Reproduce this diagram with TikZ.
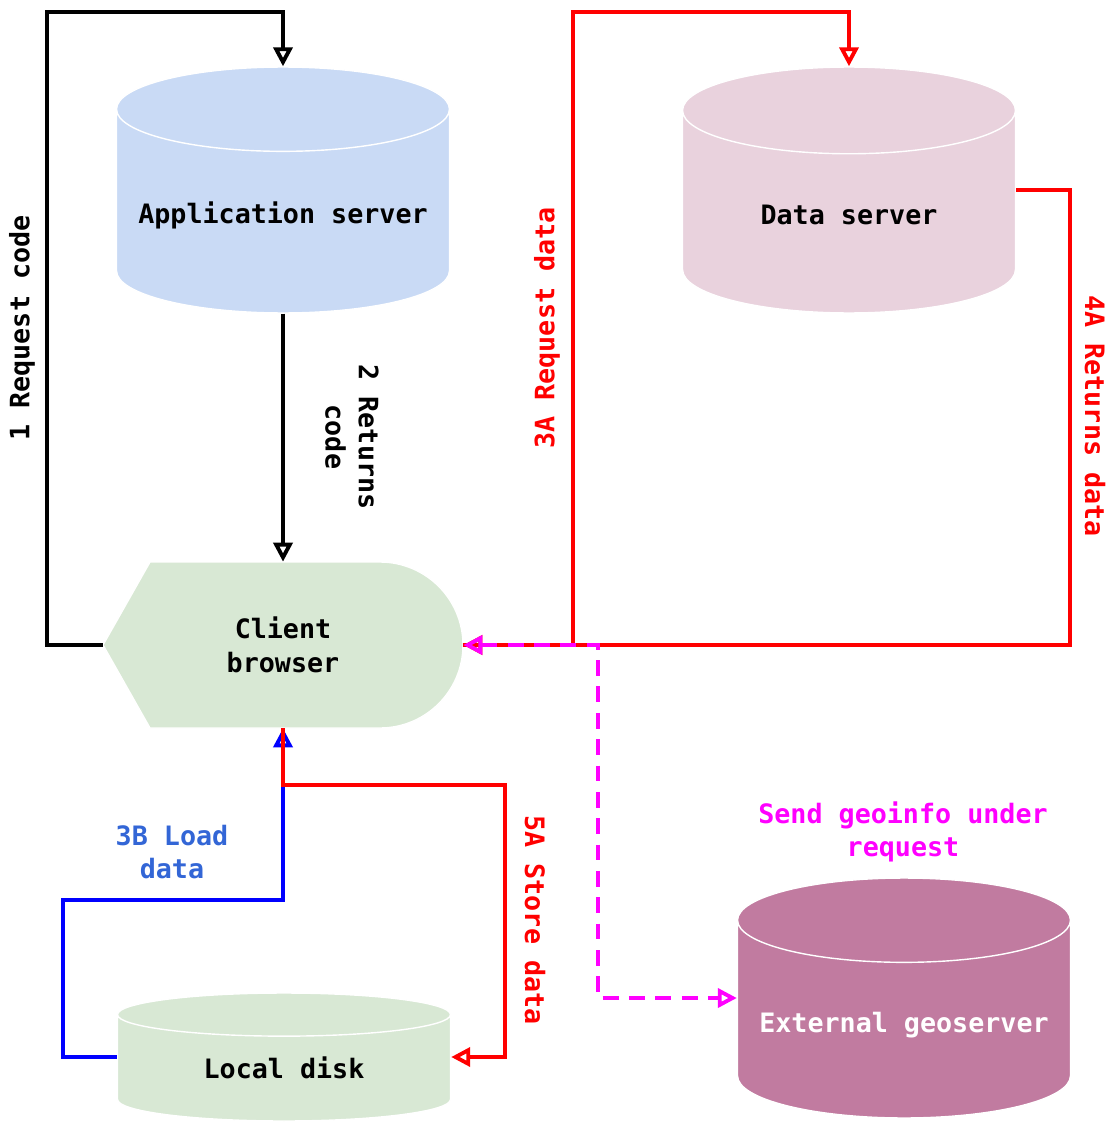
\documentclass[tikz,border=0pt]{standalone}
\usepackage{fontspec}
\setmainfont{DejaVu Sans Mono}
\usetikzlibrary{shapes.geometric,arrows.meta}

\definecolor{appBlue}{RGB}{201,218,245}
\definecolor{dataPink}{RGB}{233,210,221}
\definecolor{clientGreen}{RGB}{216,232,212}
\definecolor{geoPurple}{RGB}{193,123,160}
\definecolor{labelBlue}{RGB}{51,102,214}
\definecolor{geoMagenta}{RGB}{255,0,255}

\tikzstyle{dbNode}=[shape=cylinder,shape border rotate=90,aspect=0.28,anchor=shape center,draw=white,line width=0.8pt,minimum width=6.66cm,text height=11pt,text depth=3pt,font=\fontsize{15.2}{19}\selectfont\bfseries]
\tikzstyle{flow}=[line width=2.2pt,-{Triangle[open,length=0.38cm,width=0.38cm]}]
\tikzstyle{flowLabel}=[align=center,font=\fontsize{15.2}{19}\selectfont\bfseries]

\begin{document}
\begin{tikzpicture}[x=0.02cm,y=-0.02cm]
        \useasboundingbox (0,0) rectangle (1115,1122);

        % servers and disks
        \node[dbNode,fill=appBlue,minimum height=4.92cm]  (app)  at (283,190)  {Application server};
        \node[dbNode,fill=dataPink,minimum height=4.92cm,aspect=0.46] (data) at (849,190)  {Data server};
        \node[dbNode,fill=geoPurple,minimum height=4.8cm,text=white] (geo) at (904,998) {External geoserver};
        \node[dbNode,fill=clientGreen,minimum height=2.56cm,aspect=0.25] (disk) at (284,1057) {Local disk};

        % client browser
        \fill[clientGreen,draw=white,line width=0.8pt] (103,645) -- (150,562) -- (380,562)
            arc[start angle=-90,end angle=90,radius=83] -- (150,728) -- cycle;
        \node[minimum width=7.2cm,minimum height=3.32cm,flowLabel] (client) at (283,645) {Client\\browser};

        % code
        \draw[flow] (client.west) -- (47,645) |- (283,12) -- (app.north);
        \draw[flow] (app.south) -- (client.north);

        % data
        \draw[flow,blue] (disk.west |- disk.shape center) -- (63,1057) |- (283,900) -- (client.south);
        \draw[flow,red] (client.south) -- (283,785) -| (505,1057) -- (disk.east |- disk.shape center);
        \draw[flow,red] (client.east) -| (573,12) -| (data.north);
        \draw[flow,red] (data.east |- data.shape center) -| (1070,645) -- (client.east);
        \draw[flow,geoMagenta,dash pattern=on 9pt off 6pt,{Triangle[open,length=0.38cm,width=0.38cm]}-{Triangle[open,length=0.38cm,width=0.38cm]}] (client.east) -| (598,998) -- (geo.west |- geo.shape center);

        % labels
        \node[flowLabel,rotate=90]          (l1)   at (22,328)   {1 Request code};
        \node[flowLabel,rotate=-90]         (l2)   at (352,437)  {2 Returns\\code};
        \node[flowLabel,rotate=90,red]      (l3a)  at (547,328)  {3A Request data};
        \node[flowLabel,rotate=-90,red]     (l4a)  at (1095,416) {4A Returns data};
        \node[flowLabel,labelBlue]          (l3b)  at (172,852)  {3B Load\\data};
        \node[flowLabel,rotate=-90,red]     (l5a)  at (535,920)  {5A Store data};
        \node[flowLabel,geoMagenta]         (lgeo) at (903,832)  {Send geoinfo under\\request};
\end{tikzpicture}
\end{document}
